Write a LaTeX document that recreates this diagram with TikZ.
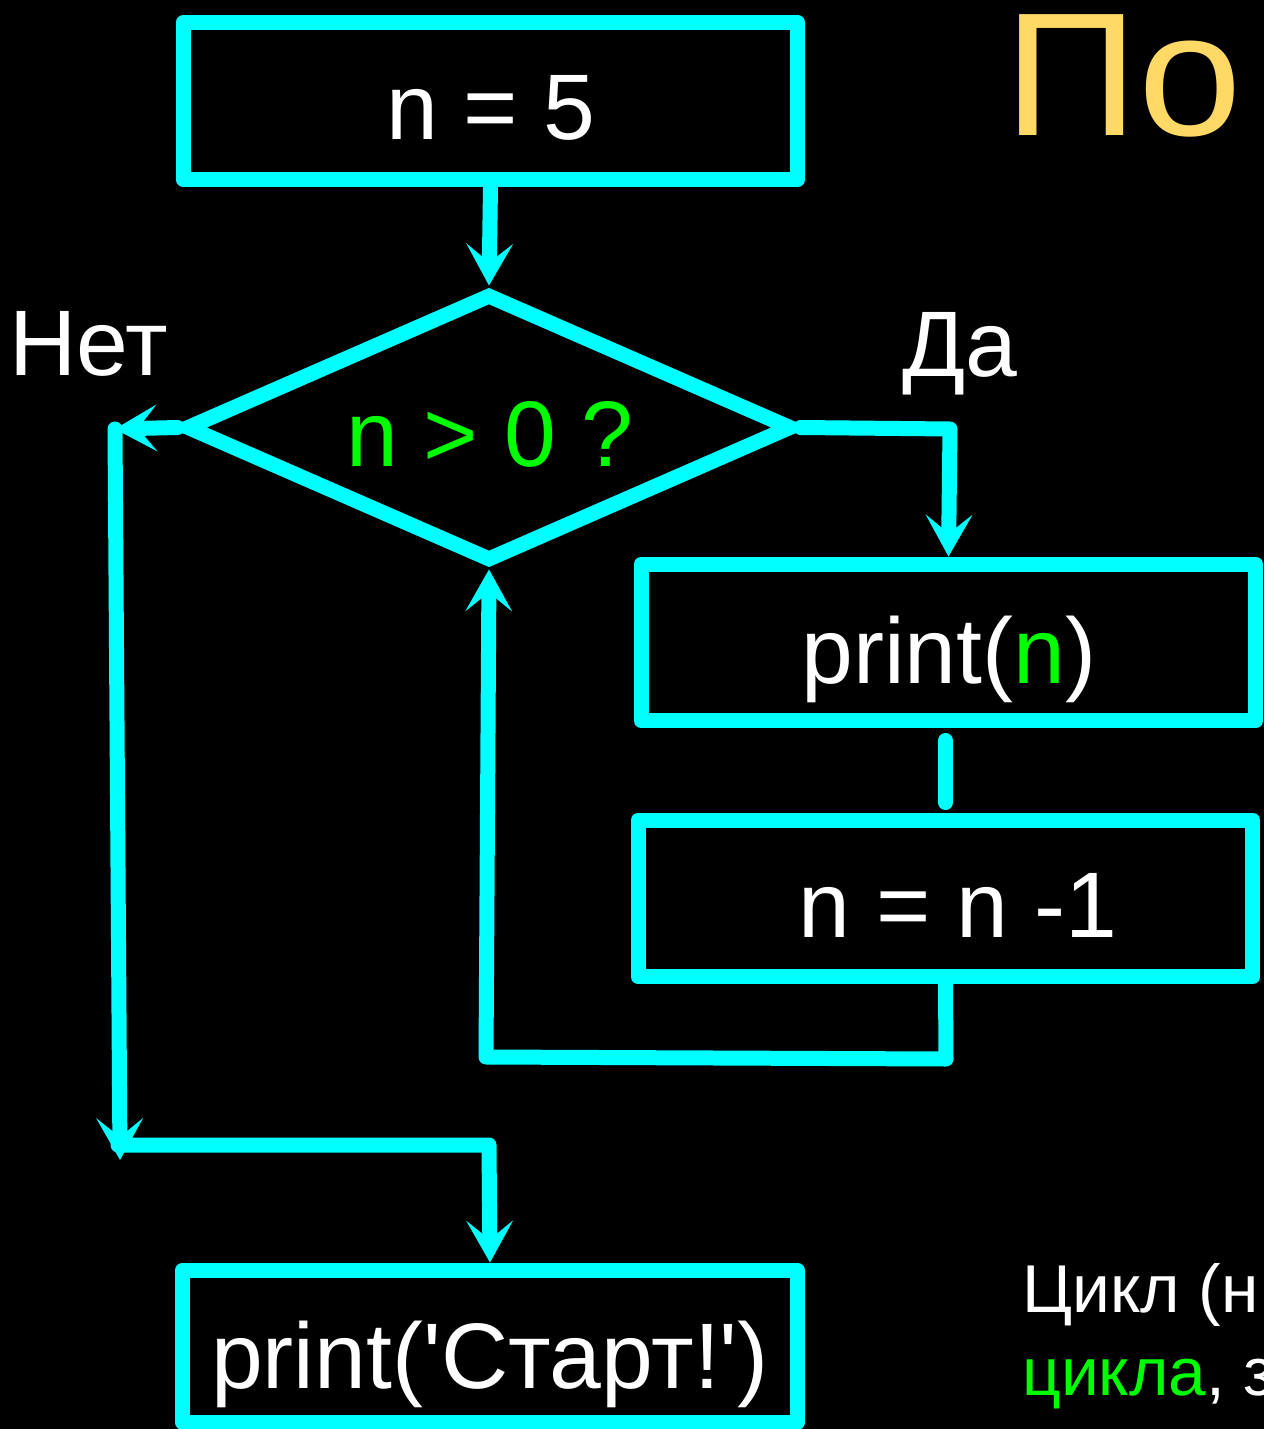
\documentclass[tikz,border=0pt]{standalone}
\usepackage{fontspec}
\setmainfont{Liberation Sans}
\usetikzlibrary{arrows.meta,shapes.geometric}
\definecolor{flow}{RGB}{0,255,255}
\definecolor{cond}{RGB}{0,255,0}
\definecolor{headc}{RGB}{255,217,102}
\begin{document}
\begin{tikzpicture}[x=0.02cm,y=-0.02cm,
  flowline/.style={draw=flow, line width=0.3cm, line cap=round, line join=round},
  arr/.style={flowline, -{Stealth[length=0.84cm,width=0.94cm,inset=0.38cm,line width=0pt]}},
  block/.style={draw=flow, line width=0.3cm, line join=round, minimum width=12.3cm,
                minimum height=3.14cm, inner sep=0pt},
  lbl/.style={text=white, font=\fontsize{53}{63}\selectfont, inner sep=0pt, anchor=base},
]
% background and page frame
\fill[black] (0,0) rectangle (1264,1429);
\clip (0,0) rectangle (1264,1429);

% blocks
\node[block] (init) at (490.5,101) {};
\node[block] (out) at (948.5,642.5) {};
\node[block] (dec) at (945.5,898.5) {};
\node[block, minimum height=3.04cm] (fin) at (490,1346) {};
\node[draw=flow, line width=0.3cm, line join=miter, diamond, inner sep=0pt,
      minimum width=12.16cm, minimum height=5.38cm] (test) at (489,427.5) {};

% block texts
\node[lbl] (initT) at (491,140) {n = 5};
\node[lbl, text=cond] (testT) at (490,466) {n > 0 ?};
\node[lbl, anchor=base west] (noT) at (9,375) {Нет};
\node[lbl, anchor=base west] (yesT) at (902,376) {Да};
\node[lbl] (outT) at (949,683) {print({\color{cond}n})};
\node[lbl] (decT) at (958,937) {n = n -1};
\node[lbl] (finT) at (490,1388) {print(\textquotesingle Старт!\textquotesingle)};

% heading and note
\node[text=headc, font=\fontsize{100}{120}\selectfont, anchor=base west, inner sep=0pt,
      xscale=1.06] (head) at (1004,136) {По};
\node[text=white, font=\fontsize{38.5}{47}\selectfont, anchor=base west, inner sep=0pt]
  (note1) at (1022,1312) {Цикл (н};
\node[text=white, font=\fontsize{38.5}{47}\selectfont, anchor=base west, inner sep=0pt]
  (note2) at (1022,1395) {{\color{cond}цикла}, з};

% bend points of the connectors
\coordinate (noL) at (115,429);
\coordinate (noD) at (120,1160);
\coordinate (joinL) at (118,1145);
\coordinate (joinR) at (489,1145);
\coordinate (yesC) at (950,429);
\coordinate (loopR) at (946,1059);
\coordinate (loopL) at (486,1057);

% connectors
\draw[arr] (init.south) -- (test.north);
\draw[arr] (test.west) -- (noL);
\draw[arr] (noL) -- (noD);
\draw[arr] (joinL) -- (joinR) -- (fin.north);
\draw[arr] (test.east) -- (yesC) -- (out.north);
\draw[flowline, shorten <=0.24cm, shorten >=0.2cm] (dec.north |- out.south) -- (dec.north);
\draw[arr] (dec.south) -- (loopR) -- (loopL) -- (test.south);
\end{tikzpicture}
\end{document}
